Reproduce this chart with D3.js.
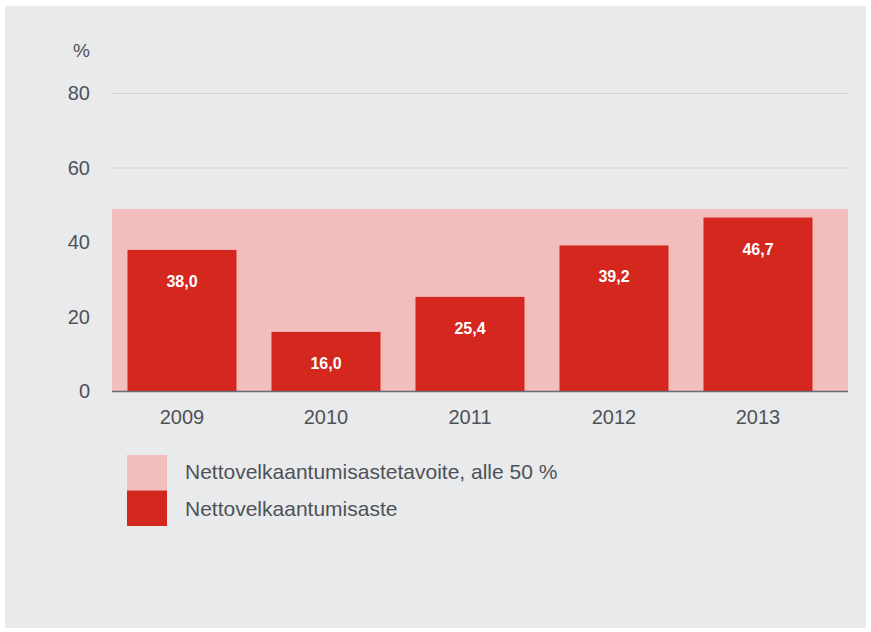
<!DOCTYPE html>
<html>
<head>
<meta charset="utf-8">
<script src="https://cdn.jsdelivr.net/npm/d3@7"></script>
<style>
  html, body { margin: 0; padding: 0; background: #ffffff; }
  svg { display: block; }
  text { font-family: "Liberation Sans", Arial, sans-serif; }
</style>
</head>
<body>
<svg id="chart" width="871" height="632"></svg>
<script>
// Net debt ratio by year, with the target band
const years = ["2009", "2010", "2011", "2012", "2013"];
const debtRatio = [38.0, 16.0, 25.4, 39.2, 46.7];
const targetBand = 49;
const yTicks = [0, 20, 40, 60, 80];
const legendLabels = ["Nettovelkaantumisastetavoite, alle 50 %", "Nettovelkaantumisaste"];

const colors = { bg: "#e9eaec", band: "#f2bdbc", bar: "#d4281f", text: "#4e5257", grid: "#cfd1d4", axis: "#6b6e72" };
const fontFamily = "'Liberation Sans', Arial, sans-serif";

const svg = d3.select("#chart");

// panel background
svg.append("rect").attr("x", 5).attr("y", 6).attr("width", 861).attr("height", 622).attr("fill", colors.bg);

const plotLeft = 112, plotRight = 848;
const y = d3.scaleLinear().domain([0, 80]).range([391.5, 93.5]);
const x = d3.scaleBand().domain(years).range([110, 830]).paddingInner(0.243).paddingOuter(0.1215);

// gridlines
svg.append("g").selectAll("line").data(yTicks.filter(d => d > 0)).join("line")
  .attr("x1", plotLeft).attr("x2", plotRight)
  .attr("y1", d => y(d)).attr("y2", d => y(d))
  .attr("stroke", colors.grid).attr("stroke-width", 1.2);

// target band
svg.append("rect")
  .attr("x", plotLeft).attr("width", plotRight - plotLeft)
  .attr("y", y(targetBand)).attr("height", y(0) - y(targetBand))
  .attr("fill", colors.band);

// bars
svg.append("g").selectAll("rect").data(debtRatio).join("rect")
  .attr("x", (d, i) => x(years[i])).attr("width", x.bandwidth())
  .attr("y", d => y(d)).attr("height", d => y(0) - y(d))
  .attr("fill", colors.bar);

// value labels
const fmt = d => d.toFixed(1).replace(".", ",");
svg.append("g").selectAll("text").data(debtRatio).join("text")
  .attr("x", (d, i) => x(years[i]) + x.bandwidth() / 2)
  .attr("y", d => y(d) + 37)
  .attr("text-anchor", "middle")
  .attr("font-size", 16).attr("font-weight", "bold")
  .attr("fill", "#ffffff")
  .text(fmt);

// baseline
svg.append("line").attr("x1", plotLeft).attr("x2", plotRight)
  .attr("y1", y(0)).attr("y2", y(0))
  .attr("stroke", colors.axis).attr("stroke-width", 1.5);

// y axis
const yAxis = svg.append("g").attr("transform", `translate(${plotLeft},0)`)
  .call(d3.axisLeft(y).tickValues(yTicks).tickSize(0).tickPadding(22));
yAxis.select(".domain").remove();
yAxis.selectAll("text").attr("font-size", 20).attr("fill", colors.text)
  .attr("font-family", fontFamily);

svg.append("text").attr("x", 90).attr("y", 57).attr("text-anchor", "end")
  .attr("font-size", 19).attr("fill", colors.text).text("%");

// x axis
const xAxis = svg.append("g").attr("transform", `translate(0,${y(0)})`)
  .call(d3.axisBottom(x).tickSize(0).tickPadding(18));
xAxis.select(".domain").remove();
xAxis.selectAll("text").attr("font-size", 20).attr("fill", colors.text)
  .attr("font-family", fontFamily);

// legend
const legend = svg.append("g").attr("transform", "translate(127,455)");
const legendColors = [colors.band, colors.bar];
legend.selectAll("rect").data(legendLabels).join("rect")
  .attr("x", 0).attr("y", (d, i) => i * 35.5)
  .attr("width", 40).attr("height", 35.5)
  .attr("fill", (d, i) => legendColors[i]);
legend.selectAll("text").data(legendLabels).join("text")
  .attr("x", 58).attr("y", (d, i) => 24 + i * 37)
  .attr("font-size", 21).attr("fill", colors.text)
  .text(d => d);
</script>
</body>
</html>
